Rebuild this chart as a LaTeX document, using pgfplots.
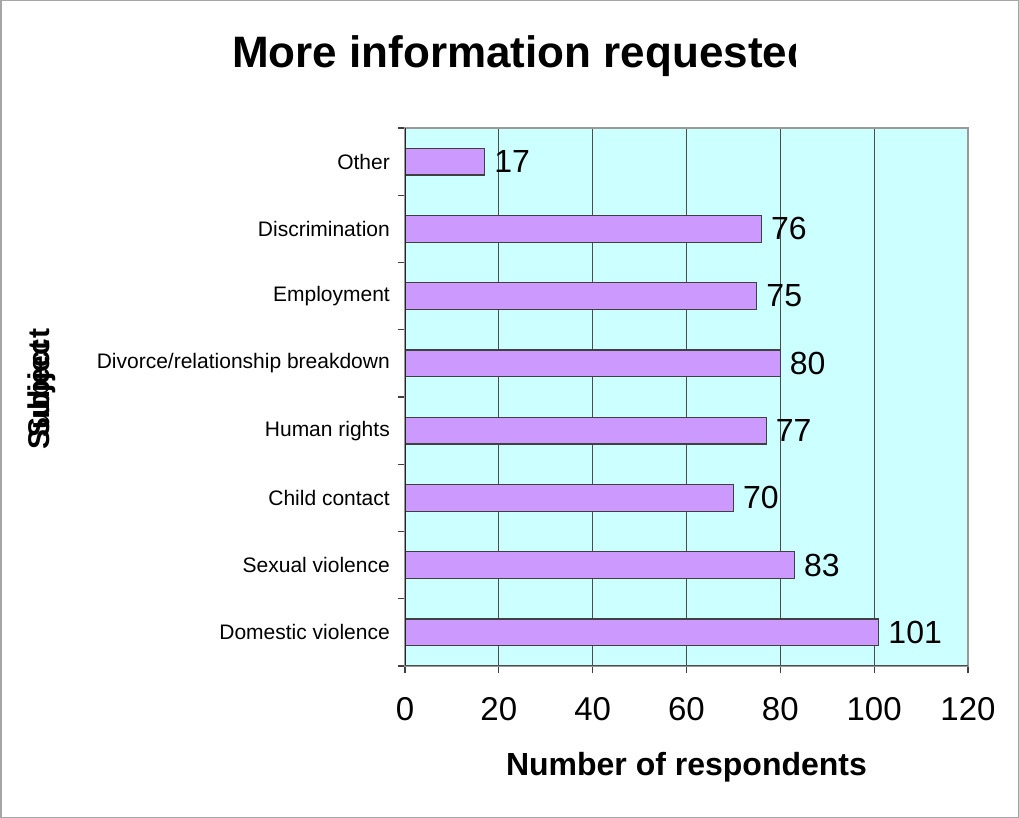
\documentclass[border=0pt]{standalone}
\usepackage{pgfplots}
\pgfplotsset{compat=1.18}
\usepackage{fontspec}
\setmainfont{Liberation Sans}
\definecolor{barfill}{HTML}{CC99FF}
\definecolor{plotbg}{HTML}{CCFFFF}
\begin{document}
\begin{tikzpicture}
\useasboundingbox (0,0) rectangle (1019bp,818bp);
\draw[gray!70, line width=1.5bp] (0.75bp,0.75bp) rectangle (1018.25bp,817.25bp);
\begin{axis}[
  at={(405bp,152bp)}, anchor=south west,
  scale only axis, width=563bp, height=538bp,
  /pgf/number format/assume math mode=true,
  xbar, bar width=26.9bp,
  xmin=0, xmax=120, ymin=-0.5, ymax=7.5,
  xtick={0,20,...,120},
  xtick pos=bottom, ytick pos=left,
  ytick={-0.5,0.5,...,7.5}, yticklabels={},
  extra y ticks={0,1,2,3,4,5,6,7},
  extra y tick labels={Domestic violence,Sexual violence,Child contact,Human rights,Divorce/relationship breakdown,Employment,Discrimination,Other},
  extra y tick style={major tick length=0pt, yticklabel style={anchor=east, inner sep=0pt, xshift=-15bp, font=\fontsize{21bp}{25bp}\selectfont}},
  tick align=outside, major tick length=7bp,
  tick style={black!75, line width=1.2bp},
  xticklabel style={anchor=base, inner sep=0pt, yshift=-47bp, font=\fontsize{33bp}{40bp}\selectfont},
  xmajorgrids, grid style={black!70, line width=1.2bp},
  axis background/.style={fill=plotbg},
  axis line style={gray!80, line width=1.2bp},
  nodes near coords,
  nodes near coords style={anchor=west, inner sep=0pt, xshift=9bp, font=\fontsize{32bp}{38bp}\selectfont},
  xlabel={Number of respondents},
  xlabel style={at={(axis description cs:0.5,0)}, anchor=base, yshift=-109bp, font=\bfseries\fontsize{32bp}{38bp}\selectfont},
]
\addplot[fill=barfill, draw=black!75, line width=1.2bp] coordinates {
  (101,0) (83,1) (70,2) (77,3) (80,4) (75,5) (76,6) (17,7)
};
\draw[black!85, line width=1.2bp] (axis cs:0,-0.5) -- (axis cs:0,7.5);
\draw[black!70, line width=1.2bp] (axis cs:0,-0.5) -- (axis cs:120,-0.5);
\end{axis}
\begin{scope}
\clip (0,0) rectangle (795bp,818bp);
\node[anchor=base west, inner sep=0pt, font=\bfseries\fontsize{44bp}{52bp}\selectfont] at (232bp,750bp) {More information requested};
\end{scope}
\node[rotate=90, inner sep=0pt, font=\bfseries\fontsize{30bp}{36bp}\selectfont] at (42bp,423bp) {Subject};
\node[rotate=90, inner sep=0pt, font=\bfseries\fontsize{30bp}{36bp}\selectfont] at (42bp,435bp) {Subject};
\end{tikzpicture}
\end{document}
